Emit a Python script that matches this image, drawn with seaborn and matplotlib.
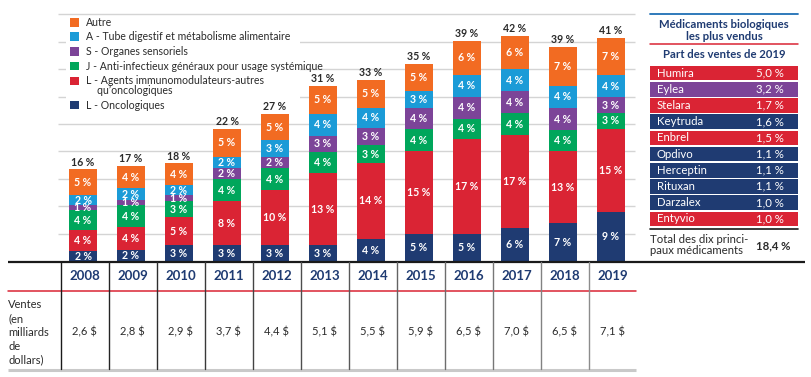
import matplotlib
matplotlib.use("Agg")
import matplotlib.pyplot as plt
from matplotlib.patches import Rectangle
import numpy as np
import pandas as pd
import seaborn as sns

# ---------------- data ----------------
years = ["2008", "2009", "2010", "2011", "2012", "2013", "2014", "2015", "2016", "2017", "2018", "2019"]

# segment heights (percent)
onco = [1.8, 2.0, 2.9, 2.9, 2.9, 2.9, 4.0, 5.0, 5.0, 6.0, 6.9, 9.0]
immuno = [3.8, 4.2, 5.1, 8.0, 10.0, 13.1, 13.9, 15.1, 17.2, 17.0, 13.1, 15.1]
antiinf = [3.7, 4.0, 2.9, 4.0, 4.1, 3.9, 3.2, 3.9, 3.8, 4.0, 3.9, 2.9]
sensor = [0.9, 0.9, 1.1, 2.1, 2.0, 3.0, 3.1, 4.0, 4.0, 4.0, 4.0, 2.9]
digest = [1.8, 2.2, 1.8, 2.0, 3.0, 4.0, 3.8, 3.0, 4.0, 4.0, 4.1, 4.0]
autre = [4.7, 4.0, 4.0, 5.1, 4.9, 5.0, 5.1, 4.9, 6.1, 6.1, 7.1, 6.8]

# printed labels
onco_lab = [2, 2, 3, 3, 3, 3, 4, 5, 5, 6, 7, 9]
immuno_lab = [4, 4, 5, 8, 10, 13, 14, 15, 17, 17, 13, 15]
antiinf_lab = [4, 4, 3, 4, 4, 4, 3, 4, 4, 4, 4, 3]
sensor_lab = [1, 1, 1, 2, 2, 3, 3, 4, 4, 4, 4, 3]
digest_lab = [2, 2, 2, 2, 3, 4, 4, 3, 4, 4, 4, 4]
autre_lab = [5, 4, 4, 5, 5, 5, 5, 5, 6, 6, 7, 7]
total_lab = [16, 17, 18, 22, 27, 31, 33, 35, 39, 42, 39, 41]

sales = ["2,6 $", "2,8 $", "2,9 $", "3,7 $", "4,4 $", "5,1 $", "5,5 $", "5,9 $", "6,5 $", "7,0 $", "6,5 $", "7,1 $"]

series_names = ["L - Oncologiques",
                "L - Agents immunomodulateurs-autres\n    qu\u2019oncologiques",
                "J - Anti-infectieux généraux pour usage systémique",
                "S - Organes sensoriels",
                "A - Tube digestif et métabolisme alimentaire",
                "Autre"]

drug_names = ["Humira", "Eylea", "Stelara", "Keytruda", "Enbrel", "Opdivo",
              "Herceptin", "Rituxan", "Darzalex", "Entyvio"]
drug_share = ["5,0 %", "3,2 %", "1,7 %", "1,6 %", "1,5 %", "1,1 %", "1,1 %", "1,1 %", "1,0 %", "1,0 %"]
drug_class = ["immuno", "sensor", "immuno", "onco", "immuno", "onco", "onco", "onco", "onco", "immuno"]
total_top10 = "18,4 %"

# ---------------- style ----------------
sns.set_theme(style="white")
plt.rcParams["font.family"] = ["Lato", "DejaVu Sans"]

C_ORANGE = "#f26b22"
C_BLUE = "#1b9bd7"
C_PURPLE = "#7c4498"
C_GREEN = "#00a65b"
C_RED = "#da2434"
C_NAVY = "#1f3b72"
TXT = "#2b2b2b"

colors = [C_NAVY, C_RED, C_GREEN, C_PURPLE, C_BLUE, C_ORANGE]
class_color = {"immuno": C_RED, "sensor": C_PURPLE, "onco": C_NAVY}

W, H = 811, 377
fig = plt.figure(figsize=(W / 100, H / 100), dpi=100)
ax = fig.add_axes([0, 0, 1, 1])

X0, XS = 83.0, 48.0     # pixel centre of first bar, pixel step
Y0, YS = 261.0, 5.48    # pixel baseline, pixels per percent


def dx(p):
    return (p - X0) / XS


def dy(p):
    return (Y0 - p) / YS


layers = [onco, immuno, antiinf, sensor, digest, autre]
labels = [onco_lab, immuno_lab, antiinf_lab, sensor_lab, digest_lab, autre_lab]
cum = np.cumsum(np.array(layers), axis=0)

# gridlines
ax.hlines(np.arange(5, 50, 5), dx(58), dx(635), color="#d4d4d4", lw=1.0, zorder=1)

# stacked bars (draw cumulative totals from top layer down)
for k in range(len(layers) - 1, -1, -1):
    df = pd.DataFrame({"year": years, "val": cum[k]})
    sns.barplot(data=df, x="year", y="val", order=years, color=colors[k],
                saturation=1, width=28 / 48, linewidth=0, edgecolor="none",
                ax=ax, zorder=3)

# segment labels
for k in range(len(layers)):
    for i in range(len(years)):
        bottom = cum[k - 1][i] if k > 0 else 0
        mid = bottom + layers[k][i] / 2
        ax.text(i, mid, f"{labels[k][i]} %", color="white", fontsize=7.6,
                fontweight="bold", ha="center", va="center", zorder=5)

# totals
for i in range(len(years)):
    ax.text(i, cum[-1][i] + 0.35, f"{total_lab[i]} %", color=TXT, fontsize=7.6,
            fontweight="bold", ha="center", va="bottom", zorder=5)

# legend block
ax.add_patch(Rectangle((dx(66), dy(112)), (300 - 66) / XS, (112 - 17) / YS,
                       facecolor="white", edgecolor="none", zorder=2))
leg_y = [105, 81, 66, 51.7, 36.7, 22.7]
for k in range(len(series_names)):
    sq = 8.7
    ax.add_patch(Rectangle((dx(70), dy(leg_y[k] + sq / 2)), sq / XS, sq / YS,
                           facecolor=colors[k], edgecolor="none", zorder=4))
    va = "top" if "\n" in series_names[k] else "center"
    ty = leg_y[k] - 5.8 if "\n" in series_names[k] else leg_y[k]
    ax.text(dx(86), dy(ty), series_names[k], fontsize=7.6, color=TXT,
            ha="left", va=va, linespacing=0.92, zorder=5)

# ---------------- bottom table ----------------
ax.plot([dx(8), dx(805)], [dy(261.5), dy(261.5)], color="#1a1a1a", lw=1.6,
        solid_capstyle="butt", zorder=6)
ax.plot([dx(8), dx(636)], [dy(290.7), dy(290.7)], color=C_RED, lw=1.1, zorder=6)
ax.plot([dx(8), dx(636)], [dy(370), dy(370)], color="#c9c9c9", lw=2.2,
        solid_capstyle="butt", zorder=6)
for i in range(len(years)):
    xs = 60.7 + 48 * i
    g = 0.1 + 0.45 * i / (len(years) - 1)
    ax.plot([dx(xs), dx(xs)], [dy(262), dy(369)], color=(g, g, g), lw=1.0, zorder=6)
    ax.text(dx(xs + 24), dy(275.7), years[i], fontsize=9.5, fontweight="bold",
            color=C_NAVY, ha="center", va="center")
    ax.text(dx(xs + 24), dy(332.3), sales[i], fontsize=8, color=TXT,
            ha="center", va="center")
ax.text(dx(8), dy(332.3), "Ventes\n(en\nmilliards\nde\ndollars)", fontsize=8,
        color=TXT, ha="left", va="center", linespacing=1.3)

# ---------------- right panel ----------------
PX0, PX1 = 650, 798
ax.plot([dx(PX0), dx(PX1)], [dy(14), dy(14)], color="#1f6fb5", lw=1.3)
ax.text(dx((PX0 + PX1) / 2), dy(30.5), "Médicaments biologiques\nles plus vendus",
        fontsize=8.2, fontweight="bold", color=C_NAVY, ha="center", va="center",
        linespacing=1.15)
ax.plot([dx(PX0), dx(PX1)], [dy(43.7), dy(43.7)], color=C_RED, lw=1.1)
ax.text(dx((PX0 + PX1) / 2), dy(54), "Part des ventes de 2019", fontsize=8.2,
        fontweight="bold", color=C_NAVY, ha="center", va="center")
row_top, row_pitch, row_h = 65.7, 16.2, 14.6
for j in range(len(drug_names)):
    top = row_top + j * row_pitch
    ax.add_patch(Rectangle((dx(PX0), dy(top + row_h)), (PX1 - PX0) / XS, row_h / YS,
                           facecolor=class_color[drug_class[j]], edgecolor="none"))
    cy = top + row_h / 2
    ax.text(dx(656.7), dy(cy), drug_names[j], fontsize=8.2, color="white",
            ha="left", va="center")
    ax.text(dx(784), dy(cy), drug_share[j], fontsize=8.2, color="white",
            ha="right", va="center")
ax.plot([dx(PX0), dx(PX1)], [dy(228.8), dy(228.8)], color="#1a1a1a", lw=1.2)
ax.text(dx(PX0), dy(245), "Total des dix princi-\npaux médicaments", fontsize=8.2,
        color=TXT, ha="left", va="center", linespacing=1.05)
ax.text(dx(790), dy(245.7), total_top10, fontsize=8.2, fontweight="bold",
        color=TXT, ha="right", va="center")

# ---------------- axes ----------------
ax.set_xlim(dx(0), dx(W))
ax.set_ylim(dy(H), dy(0))
ax.set_axis_off()

fig.savefig("out.png", dpi=100)
